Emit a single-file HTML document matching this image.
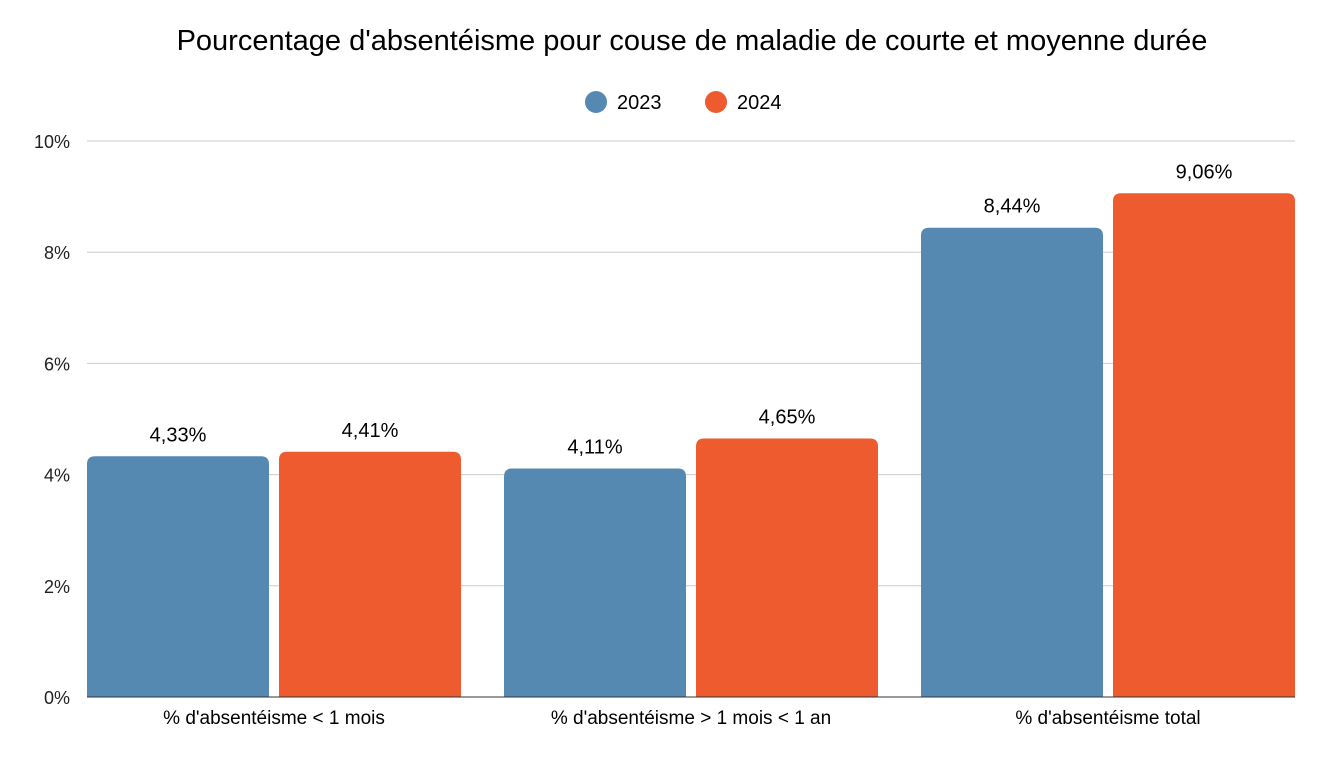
<!DOCTYPE html>
<html><head><meta charset="utf-8"><style>
body{margin:0;background:#fff;font-family:"Liberation Sans",sans-serif}
svg text{font-family:"Liberation Sans",sans-serif}
</style></head><body>
<svg id="chart" width="1326" height="768" xmlns="http://www.w3.org/2000/svg">
<rect width="1326" height="768" fill="#fff"/>
<text x="692" y="50" font-size="29" text-anchor="middle" fill="#000">Pourcentage d'absentéisme pour couse de maladie de courte et moyenne durée</text>
<g>
<circle cx="596" cy="102" r="11" fill="#5589b1"/>
<text x="617" y="109" font-size="20">2023</text>
<circle cx="716" cy="102" r="11" fill="#ee5b2f"/>
<text x="737" y="109" font-size="20">2024</text>
</g>
<g id="grid"></g><g id="bars"></g>
</svg>
<script>
const categories=["% d'absentéisme < 1 mois","% d'absentéisme > 1 mois < 1 an","% d'absentéisme total"];
const values2023=[4.33,4.11,8.44];
const values2024=[4.41,4.65,9.06];
const labels2023=["4,33%","4,11%","8,44%"];
const labels2024=["4,41%","4,65%","9,06%"];
const ticks=[0,2,4,6,8,10];
const tickLabels=["0%","2%","4%","6%","8%","10%"];
const NS="http://www.w3.org/2000/svg";
const X0=87,X1=1295,Y0=697,Y1=141,YMAX=10,BW=182,GAP=10;
const y=v=>Y0-(v/YMAX)*(Y0-Y1);
const step=(X1-X0-(2*BW+GAP))/(categories.length-1);
const grid=document.getElementById('grid'),bars=document.getElementById('bars');
function mk(t,a,p){const e=document.createElementNS(NS,t);for(const k in a)e.setAttribute(k,a[k]);p.appendChild(e);return e;}
ticks.forEach((t,i)=>{
 const l=mk('line',{x1:X0,x2:X1,y1:y(t),y2:y(t),stroke:i==0?'#333':'#ccc','stroke-width':1},grid);
 
 
 const tx=mk('text',{x:70,y:y(t)+7,'font-size':18,'text-anchor':'end',fill:'#222'},grid);
 tx.textContent=tickLabels[i];
 
 
});
function bar(x,v,c,lab){
 const top=y(v),h=Y0-top,r=8;
 const p=mk('path',{d:`M${x},${Y0}V${top+r}Q${x},${top} ${x+r},${top}H${x+BW-r}Q${x+BW},${top} ${x+BW},${top+r}V${Y0}Z`,fill:c},bars);
 
 
 const t=mk('text',{x:x+BW/2,y:top-15,'font-size':20,'text-anchor':'middle',fill:'#000'},bars);
 t.textContent=lab;
 
 
}
categories.forEach((c,i)=>{
 const gx=X0+i*step;
 bar(gx,values2023[i],'#5589b1',labels2023[i]);
 bar(gx+BW+GAP,values2024[i],'#ee5b2f',labels2024[i]);
 const t=mk('text',{x:gx+BW+GAP/2,y:724,'font-size':19,'text-anchor':'middle',fill:'#000'},bars);
 t.textContent=c;
 
 
});
mk('line',{x1:X0,x2:X1,y1:Y0,y2:Y0,stroke:'#333','stroke-width':1},bars);
</script>
</body></html>
